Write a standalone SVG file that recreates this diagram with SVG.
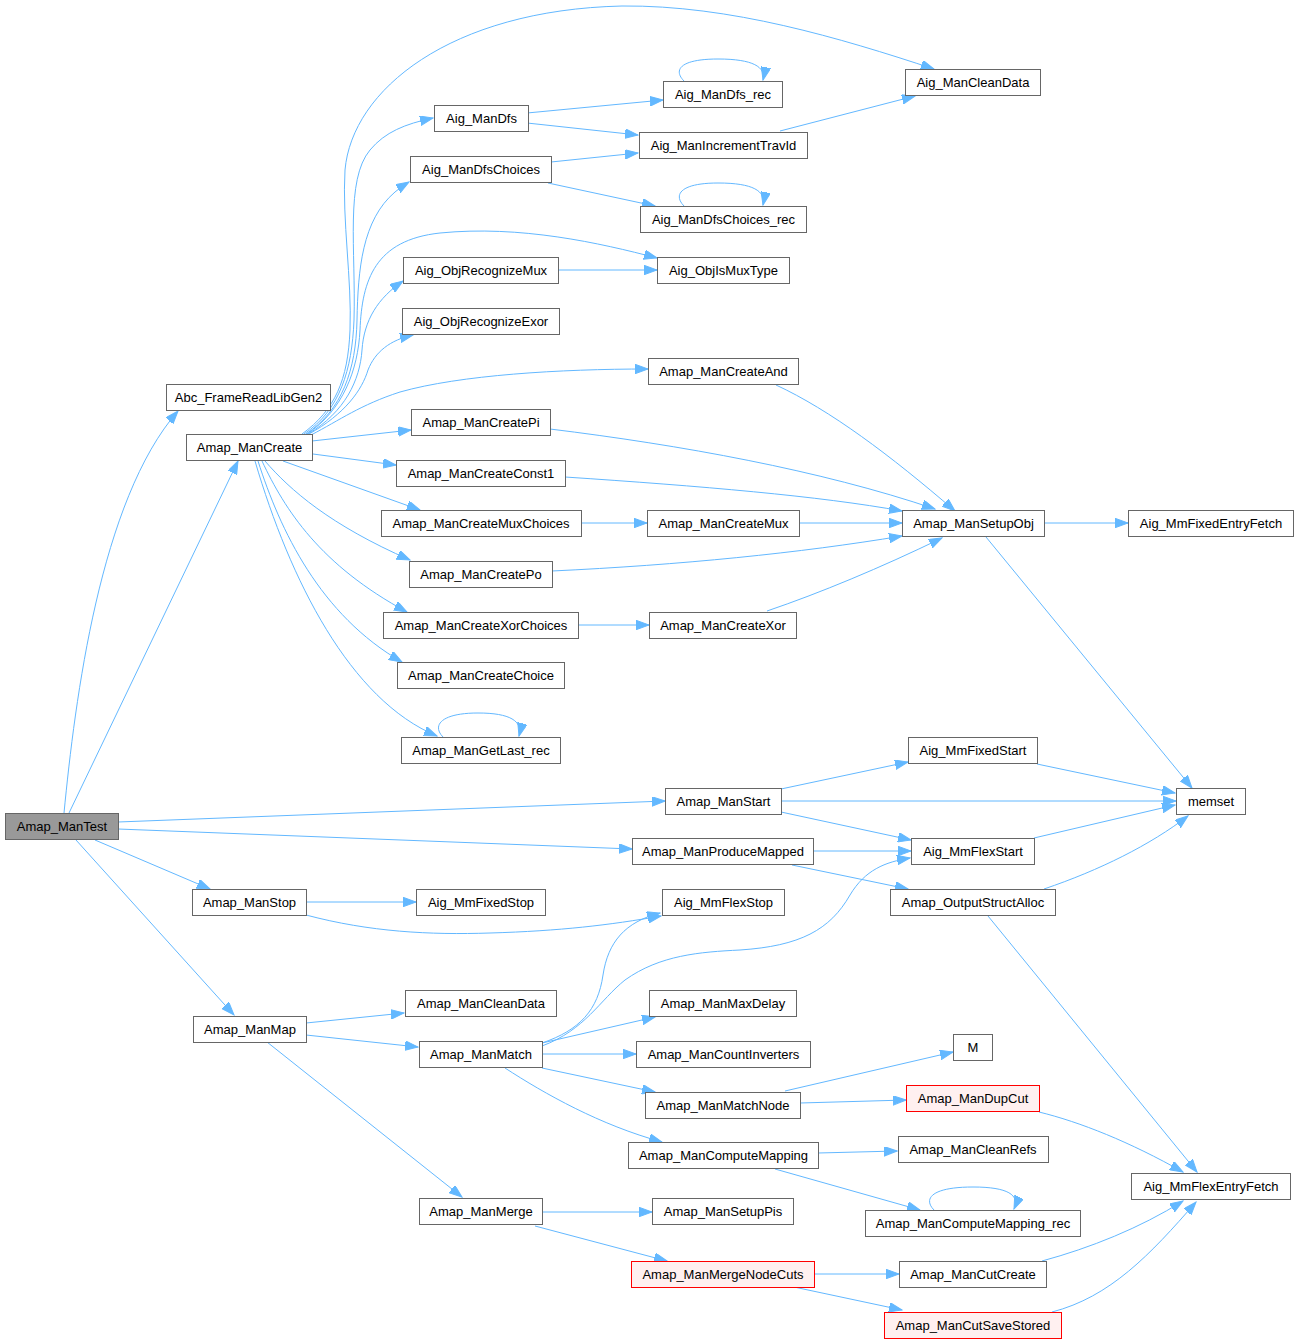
<svg xmlns="http://www.w3.org/2000/svg" width="1299" height="1344" viewBox="0 0 1299 1344">
<style>
.n rect{fill:#ffffff;stroke:#666666;stroke-width:1}
.r rect{fill:#999999;stroke:#666666;stroke-width:1}
.x rect{fill:#fff0f0;stroke:#ff0000;stroke-width:1}
text{font-family:"Liberation Sans",Arial,sans-serif;font-size:13px;text-anchor:middle;fill:#000000}
.e path{fill:none;stroke:#63b8ff;stroke-width:1;marker-end:url(#ah)}
</style>
<defs>
<marker id="ah" markerWidth="14" markerHeight="10" refX="13" refY="4.75" orient="auto" markerUnits="userSpaceOnUse">
<path d="M0,0 L13,4.75 L0,9.5 z" fill="#63b8ff" stroke="#63b8ff" stroke-width="1"/>
</marker>
</defs>
<rect x="0" y="0" width="1299" height="1344" fill="#ffffff"/>
<g id="edges" class="e">
<path d="M64,813 C75,700 100,500 178,411"/>
<path d="M69,813 L238,461"/>
<path d="M118,822 L665,801"/>
<path d="M118,829 L632,849"/>
<path d="M95,840 L210,889"/>
<path d="M76,840 L234,1015"/>
<path d="M302,434 C335,410 348,380 350,330 C352,280 342,220 345,170 C352,90 450,10 622,6 C730,5 840,38 934,69"/>
<path d="M304,434 C340,410 352,370 354,320 C356,250 345,180 370,150 C385,132 405,124 433,118"/>
<path d="M306,434 C342,410 356,370 357,320 C358,270 362,220 395,192 C400,188 404,185 409,182"/>
<path d="M307,434 C343,410 358,370 360,330 C362,280 375,240 440,233 C520,225 600,243 657,258"/>
<path d="M308,434 C345,412 360,380 362,350 C364,320 378,298 403,281"/>
<path d="M309,434 C345,414 362,390 368,370 C375,352 390,340 413,335"/>
<path d="M311,435 C340,420 360,405 400,392 C460,375 560,369 648,369"/>
<path d="M312,441 L411,430"/>
<path d="M313,454 L396,465"/>
<path d="M283,461 L420,510"/>
<path d="M265,461 C290,490 330,525 410,560"/>
<path d="M262,461 C285,510 320,565 407,612"/>
<path d="M258,461 C280,530 320,615 402,662"/>
<path d="M255,461 C290,580 350,700 437,736"/>
<path d="M527,113 L663,100"/>
<path d="M527,123 L638,135"/>
<path d="M684,81 C673,70 680,59 718,59 C753,59 766,67 763,80"/>
<path d="M780,131 L915,96"/>
<path d="M551,162 L638,153"/>
<path d="M548,183 L655,206"/>
<path d="M684,206 C673,195 680,183 718,183 C753,183 766,191 763,205"/>
<path d="M558,270 L657,270"/>
<path d="M776,385 C830,410 890,455 955,511"/>
<path d="M550,429 C680,445 820,470 935,509"/>
<path d="M565,477 C700,486 820,496 902,511"/>
<path d="M581,523 L647,523"/>
<path d="M799,523 L902,523"/>
<path d="M552,571 C680,565 800,553 902,536"/>
<path d="M578,625 L649,625"/>
<path d="M767,611 C820,593 880,568 942,538"/>
<path d="M1044,523 L1128,523"/>
<path d="M986,537 L1192,788"/>
<path d="M443,737 C432,726 440,713 478,713 C510,713 523,721 519,736"/>
<path d="M781,789 L908,762"/>
<path d="M781,801 L1176,801"/>
<path d="M781,812 L911,840"/>
<path d="M1037,764 L1175,793"/>
<path d="M1034,838 L1175,805"/>
<path d="M1044,889 C1100,870 1150,845 1188,816"/>
<path d="M988,916 L1197,1172"/>
<path d="M813,851 L911,851"/>
<path d="M792,865 L908,889"/>
<path d="M306,902 L416,902"/>
<path d="M306,915 C370,932 430,935 490,933 C560,931 610,925 661,916"/>
<path d="M306,1023 L404,1013"/>
<path d="M306,1035 L418,1047"/>
<path d="M267,1042 L462,1197"/>
<path d="M542,1043 C580,1030 598,1010 603,975 C608,942 625,922 660,913"/>
<path d="M542,1046 C585,1030 600,1000 625,980 C660,955 700,952 740,950 C800,946 830,930 850,895 C865,870 885,862 910,858"/>
<path d="M542,1043 L655,1017"/>
<path d="M542,1054 L636,1054"/>
<path d="M542,1068 L655,1092"/>
<path d="M505,1068 C545,1094 600,1125 662,1142"/>
<path d="M785,1091 L953,1052"/>
<path d="M800,1103 L906,1100"/>
<path d="M1039,1112 C1080,1122 1130,1142 1183,1172"/>
<path d="M818,1153 L897,1151"/>
<path d="M775,1169 L920,1210"/>
<path d="M934,1210 C923,1199 931,1187 973,1187 C1008,1187 1020,1195 1014,1209"/>
<path d="M542,1212 L652,1212"/>
<path d="M535,1226 L667,1261"/>
<path d="M814,1274 L899,1274"/>
<path d="M794,1287 L902,1310"/>
<path d="M1042,1261 C1090,1248 1140,1228 1183,1201"/>
<path d="M1052,1312 C1110,1297 1150,1255 1196,1202"/>
</g>
<g id="n0" class="r"><rect x="5.5" y="813.5" width="113" height="26"/><text x="62" y="831">Amap_ManTest</text></g>
<g id="n1" class="n"><rect x="166.5" y="384.5" width="164" height="26"/><text x="248.5" y="402">Abc_FrameReadLibGen2</text></g>
<g id="n2" class="n"><rect x="186.5" y="434.5" width="126" height="26"/><text x="249.5" y="452">Amap_ManCreate</text></g>
<g id="n3" class="n"><rect x="905.5" y="69.5" width="135" height="26"/><text x="973" y="87">Aig_ManCleanData</text></g>
<g id="n4" class="n"><rect x="434.5" y="105.5" width="94" height="26"/><text x="481.5" y="123">Aig_ManDfs</text></g>
<g id="n5" class="n"><rect x="663.5" y="81.5" width="119" height="26"/><text x="723" y="99">Aig_ManDfs_rec</text></g>
<g id="n6" class="n"><rect x="639.5" y="132.5" width="168" height="26"/><text x="723.5" y="150">Aig_ManIncrementTravId</text></g>
<g id="n7" class="n"><rect x="410.5" y="156.5" width="141" height="26"/><text x="481" y="174">Aig_ManDfsChoices</text></g>
<g id="n8" class="n"><rect x="640.5" y="206.5" width="166" height="26"/><text x="723.5" y="224">Aig_ManDfsChoices_rec</text></g>
<g id="n9" class="n"><rect x="657.5" y="257.5" width="132" height="26"/><text x="723.5" y="275">Aig_ObjIsMuxType</text></g>
<g id="n10" class="n"><rect x="403.5" y="257.5" width="155" height="26"/><text x="481" y="275">Aig_ObjRecognizeMux</text></g>
<g id="n11" class="n"><rect x="402.5" y="308.5" width="157" height="26"/><text x="481" y="326">Aig_ObjRecognizeExor</text></g>
<g id="n12" class="n"><rect x="648.5" y="358.5" width="150" height="26"/><text x="723.5" y="376">Amap_ManCreateAnd</text></g>
<g id="n13" class="n"><rect x="411.5" y="409.5" width="139" height="26"/><text x="481" y="427">Amap_ManCreatePi</text></g>
<g id="n14" class="n"><rect x="396.5" y="460.5" width="169" height="26"/><text x="481" y="478">Amap_ManCreateConst1</text></g>
<g id="n15" class="n"><rect x="381.5" y="510.5" width="200" height="26"/><text x="481" y="528">Amap_ManCreateMuxChoices</text></g>
<g id="n16" class="n"><rect x="647.5" y="510.5" width="152" height="26"/><text x="723.5" y="528">Amap_ManCreateMux</text></g>
<g id="n17" class="n"><rect x="409.5" y="561.5" width="143" height="26"/><text x="481" y="579">Amap_ManCreatePo</text></g>
<g id="n18" class="n"><rect x="383.5" y="612.5" width="195" height="26"/><text x="481" y="630">Amap_ManCreateXorChoices</text></g>
<g id="n19" class="n"><rect x="649.5" y="612.5" width="147" height="26"/><text x="723" y="630">Amap_ManCreateXor</text></g>
<g id="n20" class="n"><rect x="397.5" y="662.5" width="167" height="26"/><text x="481" y="680">Amap_ManCreateChoice</text></g>
<g id="n21" class="n"><rect x="401.5" y="737.5" width="159" height="26"/><text x="481" y="755">Amap_ManGetLast_rec</text></g>
<g id="n22" class="n"><rect x="902.5" y="510.5" width="142" height="26"/><text x="973.5" y="528">Amap_ManSetupObj</text></g>
<g id="n23" class="n"><rect x="1128.5" y="510.5" width="165" height="26"/><text x="1211" y="528">Aig_MmFixedEntryFetch</text></g>
<g id="n24" class="n"><rect x="1176.5" y="788.5" width="69" height="26"/><text x="1211" y="806">memset</text></g>
<g id="n25" class="n"><rect x="908.5" y="737.5" width="129" height="26"/><text x="973" y="755">Aig_MmFixedStart</text></g>
<g id="n26" class="n"><rect x="665.5" y="788.5" width="116" height="26"/><text x="723.5" y="806">Amap_ManStart</text></g>
<g id="n27" class="n"><rect x="632.5" y="838.5" width="181" height="26"/><text x="723" y="856">Amap_ManProduceMapped</text></g>
<g id="n28" class="n"><rect x="911.5" y="838.5" width="123" height="26"/><text x="973" y="856">Aig_MmFlexStart</text></g>
<g id="n29" class="n"><rect x="662.5" y="889.5" width="122" height="26"/><text x="723.5" y="907">Aig_MmFlexStop</text></g>
<g id="n30" class="n"><rect x="890.5" y="889.5" width="165" height="26"/><text x="973" y="907">Amap_OutputStructAlloc</text></g>
<g id="n31" class="n"><rect x="192.5" y="889.5" width="114" height="26"/><text x="249.5" y="907">Amap_ManStop</text></g>
<g id="n32" class="n"><rect x="416.5" y="889.5" width="129" height="26"/><text x="481" y="907">Aig_MmFixedStop</text></g>
<g id="n33" class="n"><rect x="193.5" y="1016.5" width="113" height="26"/><text x="250" y="1034">Amap_ManMap</text></g>
<g id="n34" class="n"><rect x="405.5" y="990.5" width="151" height="26"/><text x="481" y="1008">Amap_ManCleanData</text></g>
<g id="n35" class="n"><rect x="419.5" y="1041.5" width="123" height="26"/><text x="481" y="1059">Amap_ManMatch</text></g>
<g id="n36" class="n"><rect x="649.5" y="990.5" width="147" height="26"/><text x="723" y="1008">Amap_ManMaxDelay</text></g>
<g id="n37" class="n"><rect x="636.5" y="1041.5" width="174" height="26"/><text x="723.5" y="1059">Amap_ManCountInverters</text></g>
<g id="n38" class="n"><rect x="645.5" y="1092.5" width="155" height="26"/><text x="723" y="1110">Amap_ManMatchNode</text></g>
<g id="n39" class="n"><rect x="628.5" y="1142.5" width="190" height="26"/><text x="723.5" y="1160">Amap_ManComputeMapping</text></g>
<g id="n40" class="n"><rect x="419.5" y="1198.5" width="123" height="26"/><text x="481" y="1216">Amap_ManMerge</text></g>
<g id="n41" class="n"><rect x="652.5" y="1198.5" width="141" height="26"/><text x="723" y="1216">Amap_ManSetupPis</text></g>
<g id="n42" class="x"><rect x="631.5" y="1261.5" width="183" height="26"/><text x="723" y="1279">Amap_ManMergeNodeCuts</text></g>
<g id="n43" class="n"><rect x="953.5" y="1034.5" width="39" height="26"/><text x="973" y="1052">M</text></g>
<g id="n44" class="x"><rect x="906.5" y="1085.5" width="133" height="26"/><text x="973" y="1103">Amap_ManDupCut</text></g>
<g id="n45" class="n"><rect x="898.5" y="1136.5" width="150" height="26"/><text x="973" y="1154">Amap_ManCleanRefs</text></g>
<g id="n46" class="n"><rect x="1131.5" y="1173.5" width="159" height="26"/><text x="1211" y="1191">Aig_MmFlexEntryFetch</text></g>
<g id="n47" class="n"><rect x="865.5" y="1210.5" width="215" height="26"/><text x="973" y="1228">Amap_ManComputeMapping_rec</text></g>
<g id="n48" class="n"><rect x="899.5" y="1261.5" width="147" height="26"/><text x="973" y="1279">Amap_ManCutCreate</text></g>
<g id="n49" class="x"><rect x="884.5" y="1312.5" width="177" height="26"/><text x="973" y="1330">Amap_ManCutSaveStored</text></g>
</svg>
